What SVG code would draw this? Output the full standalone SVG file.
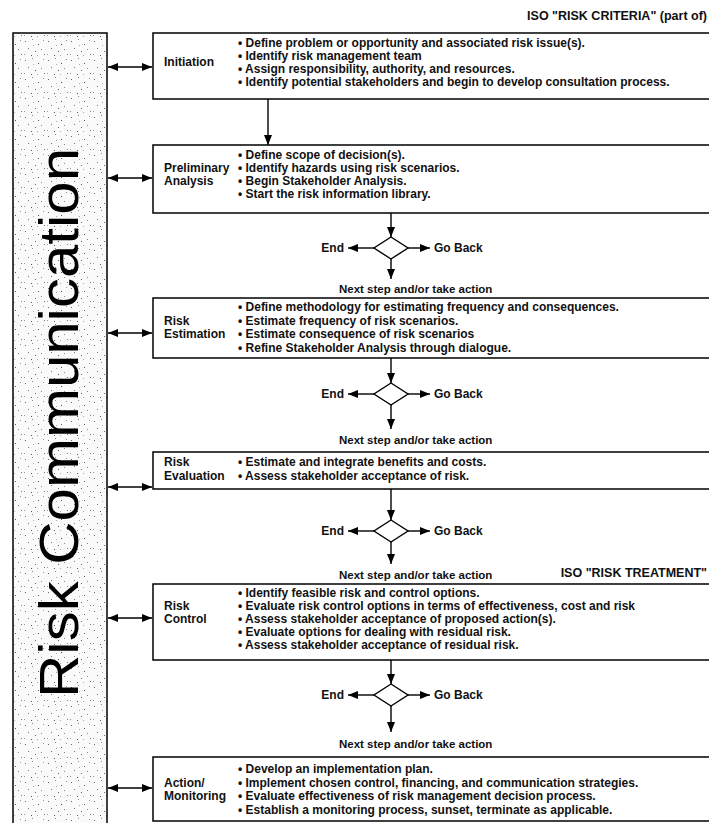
<svg xmlns="http://www.w3.org/2000/svg" width="709" height="823" viewBox="0 0 709 823">
<style>
.box{fill:#fff;stroke:#000;stroke-width:1.5}
.t{font-family:"Liberation Sans",Arial,sans-serif;font-size:12px;font-weight:bold;fill:#111}
.n{font-family:"Liberation Sans",Arial,sans-serif;font-size:11.5px;font-weight:bold;fill:#111}
.h{font-family:"Liberation Sans",Arial,sans-serif;font-size:12.5px;font-weight:bold;fill:#111}
.c{stroke:#000;stroke-width:1.4;fill:none}
.dia{fill:#fff;stroke:#000;stroke-width:1.4}
</style>
<defs>
<marker id="ah" viewBox="0 0 10 8" refX="10" refY="4" markerWidth="10" markerHeight="8" markerUnits="userSpaceOnUse" orient="auto-start-reverse">
<path d="M0,0 L10,4 L0,8 z" fill="#000"/>
</marker>
<pattern id="speckle" width="23" height="19" patternUnits="userSpaceOnUse">
<rect width="23" height="19" fill="#fafafa"/>
<rect x="2" y="3" width="1" height="1" fill="#666"/>
<rect x="9" y="1" width="1" height="1" fill="#888"/>
<rect x="15" y="6" width="1" height="1" fill="#555"/>
<rect x="20" y="2" width="1" height="1" fill="#999"/>
<rect x="5" y="10" width="1" height="1" fill="#777"/>
<rect x="12" y="13" width="1" height="1" fill="#666"/>
<rect x="18" y="11" width="1" height="1" fill="#888"/>
<rect x="1" y="16" width="1" height="1" fill="#999"/>
<rect x="8" y="17" width="1" height="1" fill="#555"/>
<rect x="21" y="16" width="1" height="1" fill="#777"/>
<rect x="14" y="17" width="1" height="1" fill="#aaa"/>
<rect x="10" y="7" width="1" height="1" fill="#aaa"/>
</pattern>
</defs>

<text class="h" x="707" y="20" text-anchor="end">ISO "RISK CRITERIA" (part of)</text>
<text class="h" x="707" y="577" text-anchor="end">ISO "RISK TREATMENT"</text>

<g id="risk-communication">
<rect x="13" y="33" width="94" height="800" fill="url(#speckle)" stroke="#000" stroke-width="1.5"/>
<text transform="translate(78,698) rotate(-90)" font-family="'Liberation Sans',Arial,sans-serif" font-size="56" fill="#000" textLength="550" lengthAdjust="spacingAndGlyphs">Risk Communication</text>
</g>

<g id="initiation">
<rect class="box" x="153" y="33" width="570" height="66"/>
<text class="t" x="164" y="66">Initiation</text>
<text class="t" x="238" y="46.5">• Define problem or opportunity and associated risk issue(s).</text>
<text class="t" x="238" y="59.5">• Identify risk management team</text>
<text class="t" x="238" y="72.5">• Assign responsibility, authority, and resources.</text>
<text class="t" x="238" y="85.5">• Identify potential stakeholders and begin to develop consultation process.</text>
</g>

<g id="preliminary-analysis">
<rect class="box" x="153" y="145" width="570" height="68"/>
<text class="t" x="164" y="171.5">Preliminary</text>
<text class="t" x="164" y="184.5">Analysis</text>
<text class="t" x="238" y="158.5">• Define scope of decision(s).</text>
<text class="t" x="238" y="171.5">• Identify hazards using risk scenarios.</text>
<text class="t" x="238" y="184.5">• Begin Stakeholder Analysis.</text>
<text class="t" x="238" y="197.5">• Start the risk information library.</text>
</g>

<g id="risk-estimation">
<rect class="box" x="153" y="298" width="570" height="60"/>
<text class="t" x="164" y="324.5">Risk</text>
<text class="t" x="164" y="338">Estimation</text>
<text class="t" x="238" y="311">• Define methodology for estimating frequency and consequences.</text>
<text class="t" x="238" y="324.5">• Estimate frequency of risk scenarios.</text>
<text class="t" x="238" y="338">• Estimate consequence of risk scenarios</text>
<text class="t" x="238" y="351.5">• Refine Stakeholder Analysis through dialogue.</text>
</g>

<g id="risk-evaluation">
<rect class="box" x="153" y="452" width="570" height="37"/>
<text class="t" x="164" y="466">Risk</text>
<text class="t" x="164" y="480">Evaluation</text>
<text class="t" x="238" y="466">• Estimate and integrate benefits and costs.</text>
<text class="t" x="238" y="480">• Assess stakeholder acceptance of risk.</text>
</g>

<g id="risk-control">
<rect class="box" x="153" y="584" width="570" height="76"/>
<text class="t" x="164" y="610">Risk</text>
<text class="t" x="164" y="623">Control</text>
<text class="t" x="238" y="597">• Identify feasible risk and control options.</text>
<text class="t" x="238" y="610">• Evaluate risk control options in terms of effectiveness, cost and risk</text>
<text class="t" x="238" y="623">• Assess stakeholder acceptance of proposed action(s).</text>
<text class="t" x="238" y="636">• Evaluate options for dealing with residual risk.</text>
<text class="t" x="238" y="649">• Assess stakeholder acceptance of residual risk.</text>
</g>

<g id="action-monitoring">
<rect class="box" x="153" y="757" width="570" height="64"/>
<text class="t" x="164" y="786.5">Action/</text>
<text class="t" x="164" y="800">Monitoring</text>
<text class="t" x="238" y="773">• Develop an implementation plan.</text>
<text class="t" x="238" y="786.5">• Implement chosen control, financing, and communication strategies.</text>
<text class="t" x="238" y="800">• Evaluate effectiveness of risk management decision process.</text>
<text class="t" x="238" y="813.5">• Establish a monitoring process, sunset, terminate as applicable.</text>
</g>

<g id="decision-1">
<polygon class="dia" points="391,237 408,248 391,259 374,248"/>
<text class="t" x="344" y="252" text-anchor="end">End</text>
<text class="t" x="434" y="252">Go Back</text>
<text class="n" x="339" y="293">Next step and/or take action</text>
</g>
<g id="decision-2">
<polygon class="dia" points="391,383 408,394 391,405 374,394"/>
<text class="t" x="344" y="398" text-anchor="end">End</text>
<text class="t" x="434" y="398">Go Back</text>
<text class="n" x="339" y="444">Next step and/or take action</text>
</g>
<g id="decision-3">
<polygon class="dia" points="391,520 408,531 391,542 374,531"/>
<text class="t" x="344" y="535" text-anchor="end">End</text>
<text class="t" x="434" y="535">Go Back</text>
<text class="n" x="339" y="579">Next step and/or take action</text>
</g>
<g id="decision-4">
<polygon class="dia" points="391,684 408,695 391,706 374,695"/>
<text class="t" x="344" y="699" text-anchor="end">End</text>
<text class="t" x="434" y="699">Go Back</text>
<text class="n" x="339" y="748">Next step and/or take action</text>
</g>

<g id="connectors">
<line class="c" x1="108" y1="67" x2="152" y2="67" marker-start="url(#ah)" marker-end="url(#ah)"/>
<line class="c" x1="108" y1="178" x2="152" y2="178" marker-start="url(#ah)" marker-end="url(#ah)"/>
<line class="c" x1="108" y1="333" x2="152" y2="333" marker-start="url(#ah)" marker-end="url(#ah)"/>
<line class="c" x1="108" y1="487" x2="152" y2="487" marker-start="url(#ah)" marker-end="url(#ah)"/>
<line class="c" x1="108" y1="618" x2="152" y2="618" marker-start="url(#ah)" marker-end="url(#ah)"/>
<line class="c" x1="108" y1="788" x2="152" y2="788" marker-start="url(#ah)" marker-end="url(#ah)"/>

<line class="c" x1="268" y1="99" x2="268" y2="145" marker-end="url(#ah)"/>

<line class="c" x1="391" y1="213" x2="391" y2="237" marker-end="url(#ah)"/>
<line class="c" x1="374" y1="248" x2="348" y2="248" marker-end="url(#ah)"/>
<line class="c" x1="408" y1="248" x2="430" y2="248" marker-end="url(#ah)"/>
<line class="c" x1="391" y1="259" x2="391" y2="279" marker-end="url(#ah)"/>

<line class="c" x1="391" y1="358" x2="391" y2="383" marker-end="url(#ah)"/>
<line class="c" x1="374" y1="394" x2="348" y2="394" marker-end="url(#ah)"/>
<line class="c" x1="408" y1="394" x2="430" y2="394" marker-end="url(#ah)"/>
<line class="c" x1="391" y1="405" x2="391" y2="429" marker-end="url(#ah)"/>

<line class="c" x1="391" y1="489" x2="391" y2="520" marker-end="url(#ah)"/>
<line class="c" x1="374" y1="531" x2="348" y2="531" marker-end="url(#ah)"/>
<line class="c" x1="408" y1="531" x2="430" y2="531" marker-end="url(#ah)"/>
<line class="c" x1="391" y1="542" x2="391" y2="564" marker-end="url(#ah)"/>

<line class="c" x1="391" y1="660" x2="391" y2="684" marker-end="url(#ah)"/>
<line class="c" x1="374" y1="695" x2="348" y2="695" marker-end="url(#ah)"/>
<line class="c" x1="408" y1="695" x2="430" y2="695" marker-end="url(#ah)"/>
<line class="c" x1="391" y1="706" x2="391" y2="732" marker-end="url(#ah)"/>
</g>
</svg>
